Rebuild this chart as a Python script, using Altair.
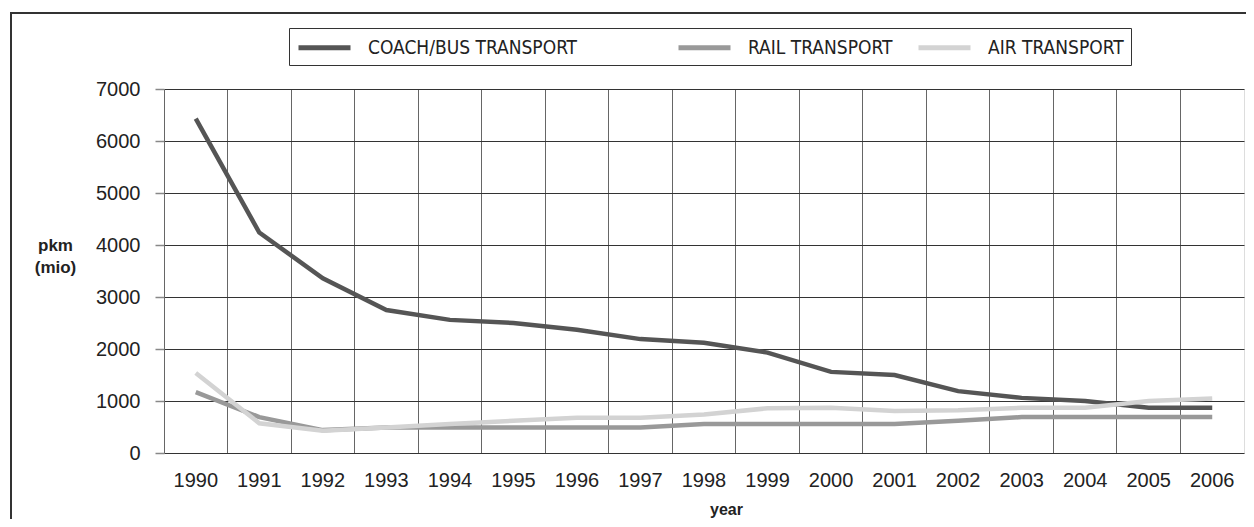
import altair as alt
import pandas as pd

years = [str(y) for y in range(1990, 2007)]
series = ["COACH/BUS TRANSPORT", "RAIL TRANSPORT", "AIR TRANSPORT"]
coach = [6430, 4240, 3360, 2750, 2560, 2500, 2370, 2190, 2120, 1930, 1560, 1500, 1190, 1060, 1000, 870, 870]
rail = [1170, 690, 440, 490, 490, 490, 490, 490, 560, 560, 560, 560, 620, 690, 690, 690, 690]
air = [1540, 570, 430, 490, 560, 620, 680, 680, 740, 860, 870, 810, 820, 870, 870, 1000, 1050]
colors = ["#555555", "#999999", "#d3d3d3"]
y_ticks = [0, 1000, 2000, 3000, 4000, 5000, 6000, 7000]

rows = []
for name, vals in zip(series, [coach, rail, air]):
    for yr, v in zip(years, vals):
        rows.append({"year": yr, "value": v, "series": name, "k": series.index(name)})
df = pd.DataFrame(rows)

W, H = 1080, 364
SP = "\u2800"
label_expr = "datum.label == 'COACH/BUS TRANSPORT' ? datum.label + '" + SP * 6 + "' : datum.label"
narrow = "Liberation Sans Narrow, DejaVu Sans Condensed, Liberation Sans"

lines = alt.Chart(df).mark_line(strokeWidth=4.5).encode(
    x=alt.X("year:N", sort=years,
            scale=alt.Scale(type="band", paddingInner=0, paddingOuter=0),
            axis=alt.Axis(title="year", bandPosition=0,
                          ticks=False, domain=False, grid=True, gridColor="#666666",
                          gridWidth=1, labelAngle=0, labelPadding=17, labelFontSize=20,
                          labelColor="#222222", labelFont="Liberation Sans",
                          titleX=562, titleY=61, titleAlign="center",
                          titleBaseline="alphabetic", titleFontWeight="bold",
                          titleFontSize=16, titleColor="#222222",
                          titleFont="Liberation Sans")),
    y=alt.Y("value:Q", scale=alt.Scale(domain=[0, 7000]),
            axis=alt.Axis(values=y_ticks, format="d", title=["pkm", "(mio)"], titleAngle=0,
                          titleX=-109, titleY=161, titleAlign="center",
                          titleBaseline="alphabetic", titleFontWeight="bold",
                          titleFontSize=17, titleLineHeight=22, titleColor="#222222",
                          titleFont="Liberation Sans",
                          grid=True, gridColor="#333333", gridWidth=1,
                          domain=False, tickColor="#888888", tickSize=9, tickWidth=1.5,
                          labelFontSize=20, labelColor="#222222", labelPadding=15,
                          labelFont="Liberation Sans")),
    color=alt.Color("series:N", scale=alt.Scale(domain=series, range=colors),
                    legend=alt.Legend(title=None, orient="none", legendX=125, legendY=-61,
                                      direction="horizontal",
                                      symbolType="M-1,0H4.2", symbolSize=400,
                                      symbolStrokeWidth=5, labelOffset=47,
                                      columnPadding=15, labelFont=narrow,
                                      labelFontSize=19, labelColor="#222222",
                                      labelLimit=600,
                                      strokeColor="#333333", padding=7,
                                      labelExpr=label_expr)),
    order=alt.Order("k:Q"),
)

frame = alt.Chart(alt.Data(values=[{"f": 1}])).mark_rect(
    fillOpacity=0, stroke="#333333", strokeWidth=2, clip=False
).encode(
    x=alt.value(-153), x2=alt.value(1100), y=alt.value(-76), y2=alt.value(480)
)

chart = alt.layer(frame, lines).properties(
    width=W, height=H,
    autosize=alt.AutoSizeParams(type="none"),
    padding={"left": 156, "top": 81, "right": 2, "bottom": 66},
).configure_view(stroke="#333333", strokeWidth=2).configure(font="Liberation Sans")

chart.save("out.html", embed_options={"renderer": "svg", "actions": False})
